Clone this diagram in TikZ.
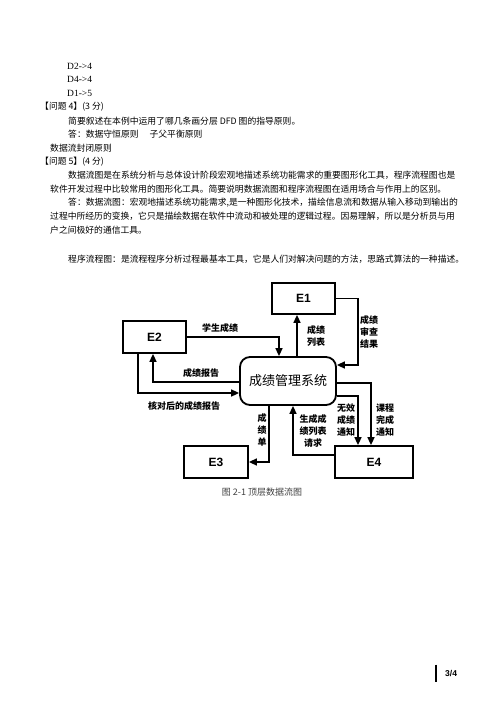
\documentclass[tikz,border=0pt]{standalone}
\usepackage{xcolor}
\usepackage{fontspec}
\setmainfont{Liberation Serif}
\setsansfont{Liberation Sans}
\newfontfamily\cjk{Noto Sans CJK SC}
\usepackage{tikz}
\usetikzlibrary{arrows.meta,positioning}

\tikzset{
  txt/.style={anchor=west, inner sep=0pt, font=\cjk\fontsize{8.8}{11}\selectfont},
  lat/.style={anchor=west, inner sep=0pt, font=\fontsize{9.5}{11}\selectfont},
  ebox/.style={draw, line width=1.8pt, minimum height=31pt,
    font=\sffamily\bfseries\fontsize{12}{14}\selectfont},
  sysbox/.style={draw, line width=1.8pt, rounded corners=10pt,
    minimum width=96pt, minimum height=48pt, font=\cjk\fontsize{13}{15}\selectfont},
  flow/.style={line width=1.6pt, -{Triangle[length=8pt,width=7pt]}},
  lbl/.style={align=center, inner sep=0pt, font=\cjk\bfseries\fontsize{9}{12}\selectfont},
}

\begin{document}
\begin{tikzpicture}[x=1pt,y=-1pt]
    \fill[white] (0,0) rectangle (500,707);
    \useasboundingbox (0,0) rectangle (500,707);

    % answer lines of question 3
    \node[lat] (d24) at (67,66) {D2->4};
    \node[lat] (d44) at (67,79.7) {D4->4};
    \node[lat] (d15) at (67,93.4) {D1->5};

    % question 4
    \node[txt] (q4) at (40,107) {【问题 4】(3 分)};
    \node[txt] (q4text) at (68,121) {简要叙述在本例中运用了哪几条画分层 DFD 图的指导原则。};
    \node[txt] (q4ans) at (68,134.5) {答：数据守恒原则\hspace{11pt}子父平衡原则};
    \node[txt] (q4ans2) at (50,148) {数据流封闭原则};

    % question 5
    \node[txt] (q5) at (40,162) {【问题 5】(4 分)};
    \node[txt] (q5a) at (68,175.6) {数据流图是在系统分析与总体设计阶段宏观地描述系统功能需求的重要图形化工具，程序流程图也是};
    \node[txt] (q5b) at (50,189.3) {软件开发过程中比较常用的图形化工具。简要说明数据流图和程序流程图在适用场合与作用上的区别。};
    \node[txt] (q5c) at (68,203) {答：数据流图：宏观地描述系统功能需求,是一种图形化技术，描绘信息流和数据从输入移动到输出的};
    \node[txt] (q5d) at (50,216.7) {过程中所经历的变换，它只是描绘数据在软件中流动和被处理的逻辑过程。因易理解，所以是分析员与用};
    \node[txt] (q5e) at (50,230.4) {户之间极好的通信工具。};
    \node[txt] (q5f) at (68,259) {程序流程图：是流程程序分析过程最基本工具，它是人们对解决问题的方法，思路式算法的一种描述。};

    % top level DFD
    \node[sysbox] (sys) at (288,381) {成绩管理系统};
    \node[ebox, minimum width=63pt] (e1) at (303.5,298.5) {E1};
    \node[ebox, minimum width=63pt, minimum height=32pt] (e2) at (154.5,337) {E2};
    \node[ebox, minimum width=64pt, minimum height=32pt] (e3) at (216,462) {E3};
    \node[ebox, minimum width=78pt, minimum height=32pt] (e4) at (374,462) {E4};

    % flows
    \draw[flow] (e2.east) -| ([xshift=-9pt]sys.north);
    \draw[flow] ([xshift=9pt]sys.north) -- ([xshift=9pt]sys.north |- e1.south);
    \draw[flow] (e1.east) -- ++(22,0) |- ([yshift=16pt]sys.east);
    \draw[flow] ([yshift=-1pt]sys.west) -| ([xshift=-1.5pt]e2.south);
    \draw[flow] ([xshift=-16.5pt]e2.south) |- ([yshift=-12pt]sys.west);
    \draw[flow] ([xshift=-19pt]sys.south) |- (e3.east);
    \draw[flow] ([yshift=7pt]e4.west) -| ([xshift=5pt]sys.south);
    \draw[flow] ([yshift=-15pt]sys.east) -| ([xshift=-16pt]e4.north);
    \draw[flow] ([yshift=-2pt]sys.east) -| ([xshift=-3pt]e4.north);

    % flow labels
    \node[lbl] (fscore) at (220,328) {学生成绩};
    \node[lbl] (flist) at (316,336) {成绩\\列表};
    \node[lbl] (fcheck) at (369,331.5) {成绩\\审查\\结果};
    \node[lbl] (freport) at (201,373.5) {成绩报告};
    \node[lbl] (fchecked) at (184,406) {核对后的成绩报告};
    \node[lbl] (fsheet) at (262,430) {成\\绩\\单};
    \node[lbl] (freq) at (313,431) {生成成\\绩列表\\请求};
    \node[lbl] (finvalid) at (346,420) {无效\\成绩\\通知};
    \node[lbl] (fdone) at (385,420.5) {课程\\完成\\通知};

    % caption and page number
    \node[font=\cjk\fontsize{9}{11}\selectfont, text=black!75, inner sep=0pt] (cap) at (262,492) {图 2-1 顶层数据流图};
    \node[anchor=west, inner sep=0pt, font=\sffamily\bfseries\fontsize{8.5}{10}\selectfont] (page) at (445,673) {3/4};
    \draw[line width=1.3pt] ([xshift=-9pt,yshift=8.5pt]page.west) -- ([xshift=-9pt,yshift=-8.5pt]page.west);
\end{tikzpicture}
\end{document}
